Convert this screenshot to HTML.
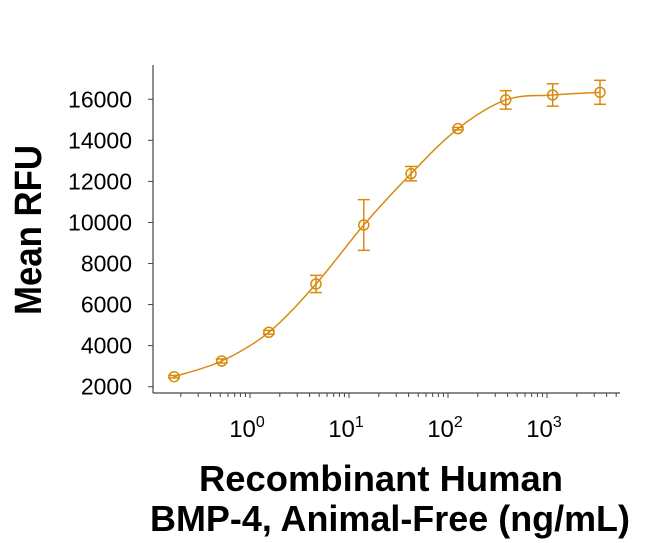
<!DOCTYPE html>
<html><head><meta charset="utf-8"><style>
html,body{margin:0;padding:0;background:#fff;}
svg{display:block;font-family:"Liberation Sans",Arial,sans-serif;}
</style></head><body>
<svg id="chart" width="650" height="543" viewBox="0 0 650 543" xmlns="http://www.w3.org/2000/svg">
<g id="axes"></g>
<g id="series"></g>
<text transform="translate(41,230) rotate(-90)" text-anchor="middle" font-size="38" font-weight="bold" fill="#000" textLength="170" lengthAdjust="spacingAndGlyphs">Mean RFU</text>
<text x="381" y="491" text-anchor="middle" font-size="36" font-weight="bold" fill="#000" textLength="364" lengthAdjust="spacingAndGlyphs">Recombinant Human</text>
<text x="390" y="531" text-anchor="middle" font-size="36" font-weight="bold" fill="#000" textLength="480" lengthAdjust="spacingAndGlyphs">BMP-4, Animal-Free (ng/mL)</text>
</svg>
<script>
const concentrations=[0.171,0.518,1.55,4.64,14.1,42.3,126,383,1141,3430];
const meanRFU=[2487,3252,4650,7004,9878,12378,14570,15970,16210,16340];
const errRFU=[60,100,90,420,1235,350,60,450,545,585];
const yTicks=[2000,4000,6000,8000,10000,12000,14000,16000];
const xDecades=[0,1,2,3];

const NS="http://www.w3.org/2000/svg";
const color="#D98A0E";
const x0=153,x1=620,yTop=65,yAxis=393;
function xs(v){return 250+99*Math.log10(v);}
function ys(v){return 386.7-(v-2000)*(287.4/14000);}
function mk(tag,attrs,parent){const e=document.createElementNS(NS,tag);for(const k in attrs)e.setAttribute(k,attrs[k]);parent.appendChild(e);return e;}
const axes=document.getElementById('axes');
const ser=document.getElementById('series');

let l=mk('line',{x1:x0,y1:yTop,x2:x0,y2:yAxis,stroke:'#444','stroke-width':1.2},axes);


l=mk('line',{x1:x0,y1:yAxis,x2:x1,y2:yAxis,stroke:'#444','stroke-width':1.2},axes);



yTicks.forEach(v=>{
  const t=mk('line',{x1:x0-5,y1:ys(v),x2:x0,y2:ys(v),stroke:'#444','stroke-width':1},axes);
  
  
  const tx=mk('text',{x:x0-21,y:ys(v)+8,'text-anchor':'end','font-size':23,fill:'#000'},axes);
  tx.textContent=v;
  
  
});

for(let d=-1;d<=3;d++){
  for(let m=1;m<=9;m++){
    const v=m*Math.pow(10,d);const x=xs(v);
    if(x<x0||x>x1)continue;
    const t=mk('line',{x1:x,y1:yAxis,x2:x,y2:yAxis+(m===1?5:4),stroke:'#444','stroke-width':1},axes);
    
    
  }
}
xDecades.forEach(d=>{
  const tx=mk('text',{x:xs(Math.pow(10,d))-3,y:437,'text-anchor':'middle','font-size':24,fill:'#000'},axes);
  tx.innerHTML='10<tspan dy="-10" font-size="16">'+d+'</tspan>';
  
  
});

const P=concentrations.map((c,i)=>[xs(c),ys(meanRFU[i])]);
let d='M'+P[0][0]+','+P[0][1];
for(let i=0;i<P.length-1;i++){
  const p0=P[Math.max(0,i-1)],p1=P[i],p2=P[i+1],p3=P[Math.min(P.length-1,i+2)];
  const c1=[p1[0]+(p2[0]-p0[0])/6,p1[1]+(p2[1]-p0[1])/6];
  const c2=[p2[0]-(p3[0]-p1[0])/6,p2[1]-(p3[1]-p1[1])/6];
  d+=' C'+c1+' '+c2+' '+p2;
}
const path=mk('path',{d:d,fill:'none',stroke:color,'stroke-width':1.5},ser);



concentrations.forEach((c,i)=>{
  const x=xs(c),y=ys(meanRFU[i]),yt=ys(meanRFU[i]+errRFU[i]),yb=ys(meanRFU[i]-errRFU[i]);
  const g=mk('g',{},ser);
  
  
  mk('line',{x1:x,y1:yt,x2:x,y2:yb,stroke:color,'stroke-width':1.5},g);
  mk('line',{x1:x-6,y1:yt,x2:x+6,y2:yt,stroke:color,'stroke-width':1.5},g);
  mk('line',{x1:x-6,y1:yb,x2:x+6,y2:yb,stroke:color,'stroke-width':1.5},g);
  mk('circle',{cx:x,cy:y,r:5,fill:'none',stroke:color,'stroke-width':1.5},g);
});
</script>
</body></html>
